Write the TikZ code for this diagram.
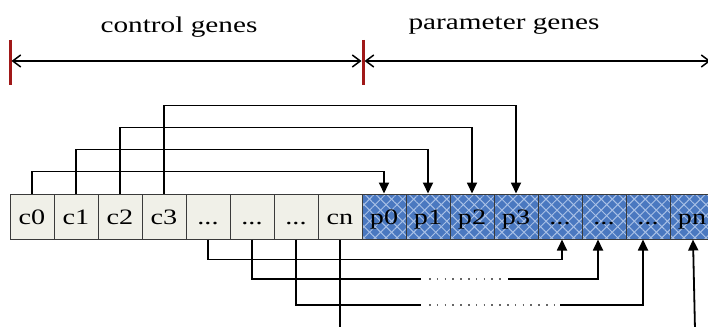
\documentclass[tikz,border=0pt]{standalone}
\usepackage{fontspec}
\setmainfont{Liberation Serif}
\usepackage{graphicx}
\usetikzlibrary{arrows.meta,patterns.meta}
\definecolor{cfill}{HTML}{F0F0E8}
\definecolor{cdraw}{HTML}{3A3A3A}
\definecolor{pblue}{HTML}{4A78C0}
\definecolor{phatch}{HTML}{A8C0E6}
\definecolor{barred}{HTML}{A01818}
\newcommand{\widetxt}[2][1.28]{\scalebox{#1}[1]{#2}}
\begin{document}
\begin{tikzpicture}[x=1pt,y=-1pt,
  cellbase/.style={minimum width=44pt, minimum height=45pt, inner sep=0pt,
    text height=15pt, text depth=0pt, font=\fontsize{22}{25}\selectfont,
    line width=1pt, draw=cdraw},
  ccell/.style={cellbase, fill=cfill},
  pcell/.style={cellbase, preaction={fill=pblue},
    preaction={pattern={Lines[angle=45,distance=7.8pt,line width=1pt]}, pattern color=phatch},
    preaction={pattern={Lines[angle=-45,distance=7.8pt,line width=1pt]}, pattern color=phatch}},
  lbl/.style={inner sep=0pt, anchor=base, font=\fontsize{22.5}{26}\selectfont},
  conn/.style={line width=1.8pt, black},
  arr/.style={conn, -{Triangle[length=11pt,width=10pt]}},
  dotline/.style={line width=1.5pt, black!60, dash pattern=on 1.5pt off 6.3pt},
  redbar/.style={line width=3pt, barred},
  dimarrow/.style={line width=1.5pt, black, {Straight Barb[length=8pt,width=12pt]}-{Straight Barb[length=8pt,width=12pt]}}]
\useasboundingbox (0,0) rectangle (708,326);
\clip (0,0) rectangle (708,326);
\fill[white] (0,0) rectangle (708,326);

% header
\node[lbl] (lc) at (179,33) {\widetxt[1.3]{control genes}};
\node[lbl] (lp) at (504,30) {\widetxt[1.3]{parameter genes}};
\coordinate (b0t) at (10,40); \coordinate (b0b) at (10,85);
\coordinate (b1t) at (363,40); \coordinate (b1b) at (363,85);
\coordinate (b2t) at (712,40); \coordinate (b2b) at (712,85);
\draw[redbar] (b0t) -- (b0b);
\draw[redbar] (b1t) -- (b1b);
\draw[redbar] (b2t) -- (b2b);
\coordinate (a0) at (11.5,61); \coordinate (a1) at (361.5,61);
\coordinate (a2) at (364.5,61); \coordinate (a3) at (710.5,61);
\draw[dimarrow] (a0) -- (a1);
\draw[dimarrow] (a2) -- (a3);

% cells
\node[ccell] (c0) at (32,216.5) {\widetxt{c0}};
\node[ccell] (c1) at (76,216.5) {\widetxt{c1}};
\node[ccell] (c2) at (120,216.5) {\widetxt{c2}};
\node[ccell] (c3) at (164,216.5) {\widetxt{c3}};
\node[ccell] (c4) at (208,216.5) {\widetxt{...}};
\node[ccell] (c5) at (252,216.5) {\widetxt{...}};
\node[ccell] (c6) at (296,216.5) {\widetxt{...}};
\node[ccell] (c7) at (340,216.5) {\widetxt{cn}};
\node[pcell] (p0) at (384,216.5) {\widetxt{p0}};
\node[pcell] (p1) at (428,216.5) {\widetxt{p1}};
\node[pcell] (p2) at (472,216.5) {\widetxt{p2}};
\node[pcell] (p3) at (516,216.5) {\widetxt{p3}};
\node[pcell] (p4) at (560,216.5) {\widetxt{...}};
\node[pcell] (p5) at (604,216.5) {\widetxt{...}};
\node[pcell] (p6) at (648,216.5) {\widetxt{...}};
\node[pcell] (p7) at (692,216.5) {\widetxt{pn}};

% top connectors
\draw[arr] (c0.north) -- ++(0,-22) -| (p0.north);
\draw[arr] (c1.north) -- ++(0,-44) -| (p1.north);
\draw[arr] (c2.north) -- ++(0,-66) -| (p2.north);
\draw[arr] (c3.north) -- ++(0,-88) -| (p3.north);

% bottom connectors
\draw[arr] (c4.south) -- ++(0,20) -| ([xshift=2pt]p4.south);

\coordinate (g5a) at (421,279); \coordinate (d5s) at (429,279);
\coordinate (d5e) at (506,279); \coordinate (g5b) at (508,279);
\draw[conn] (c5.south) |- (g5a);
\draw[dotline] (d5s) -- (d5e);
\draw[arr] (g5b) -| ([xshift=-6pt]p5.south);

\coordinate (g6a) at (421,305); \coordinate (d6s) at (429,305);
\coordinate (d6e) at (556,305); \coordinate (g6b) at (560,305);
\draw[conn] (c6.south) |- (g6a);
\draw[dotline] (d6s) -- (d6e);
\draw[arr] (g6b) -| ([xshift=-5pt]p6.south);

\coordinate (cnend) at (340,330);
\draw[conn] (c7.south) -- (cnend);
\coordinate (pnstart) at (695,330);
\draw[arr] (pnstart) -- ([xshift=1pt]p7.south);
\end{tikzpicture}
\end{document}
